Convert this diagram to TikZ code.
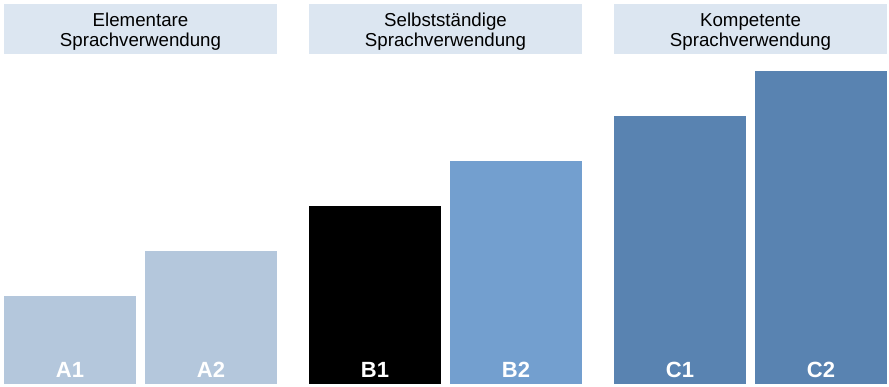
\documentclass[tikz,border=0pt]{standalone}
\usepackage{fontspec}
\setmainfont{Liberation Sans}
\usetikzlibrary{calc, positioning}

\definecolor{headfill}{RGB}{220,230,241}
\definecolor{levelA}{RGB}{180,199,220}
\definecolor{levelB}{RGB}{115,159,207}
\definecolor{levelC}{RGB}{89,131,177}

\begin{document}
\begin{tikzpicture}[x=1pt, y=1pt,
  stage/.style={fill=#1, inner sep=0, outer sep=0, minimum width=132pt, anchor=south west},
  stage-text/.style={text=white, anchor=base, font=\fontsize{22}{24}\selectfont\bfseries},
  head/.style={fill=headfill, inner sep=0, outer sep=0, minimum width=273pt, minimum height=50pt, anchor=north west},
  head-text/.style={align=center, font=\fontsize{18.7}{20}\selectfont}]

  \useasboundingbox (0,0) rectangle (889,386);

  \coordinate (ground) at (4, 2);

  % bars
  \node[stage=levelA, minimum height=88pt]  (a1) at (ground) {};
  \node[stage=levelA, minimum height=133pt] (a2) at ($(a1.south east)+(9,0)$) {};
  \node[stage=black,  minimum height=178pt] (b1) at ($(a2.south east)+(32,0)$) {};
  \node[stage=levelB, minimum height=223pt] (b2) at ($(b1.south east)+(9,0)$) {};
  \node[stage=levelC, minimum height=268pt] (c1) at ($(b2.south east)+(32,0)$) {};
  \node[stage=levelC, minimum height=313pt] (c2) at ($(c1.south east)+(9,0)$) {};

  % bar labels
  \foreach \lvl/\txt in {a1/A1, a2/A2, b1/B1, b2/B2, c1/C1, c2/C2}
    \node[stage-text] (\lvl-lbl) at ($(\lvl.south)+(0,7)$) {\txt};

  % group headers
  \node[head] (head-a) at (a1.west |- 0,382) {};
  \node[head] (head-b) at (b1.west |- 0,382) {};
  \node[head] (head-c) at (c1.west |- 0,382) {};

  \node[head-text] (head-a-txt) at ($(head-a.center)+(0,-3)$) {Elementare\\Sprachverwendung};
  \node[head-text] (head-b-txt) at ($(head-b.center)+(0,-3)$) {Selbstständige\\Sprachverwendung};
  \node[head-text] (head-c-txt) at ($(head-c.center)+(0,-3)$) {Kompetente\\Sprachverwendung};

\end{tikzpicture}
\end{document}
